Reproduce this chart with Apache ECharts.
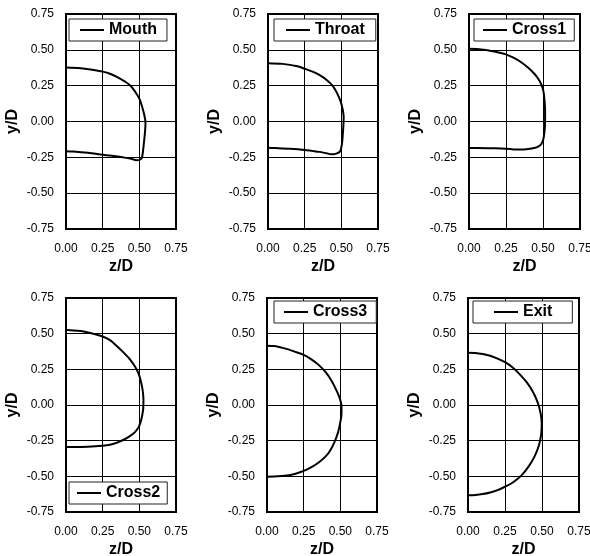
<!DOCTYPE html>
<html><head><meta charset="utf-8">
<script src="https://cdn.jsdelivr.net/npm/echarts@6/dist/echarts.min.js"></script>
<style>html,body{margin:0;padding:0;background:#fff}#c{width:590px;height:556px}</style>
</head><body><div id="c"></div>
<script>
const panelNames = ['Mouth', 'Throat', 'Cross1', 'Cross2', 'Cross3', 'Exit'];
const xTicks = [0.00, 0.25, 0.50, 0.75];
const yTicks = [-0.75, -0.50, -0.25, 0.00, 0.25, 0.50, 0.75];
const xTitle = 'z/D';
const yTitle = 'y/D';

// [z/D, y/D] pairs
const mouth = [[0,0.377],[0.10,0.372],[0.20,0.358],[0.25,0.348],[0.30,0.333],[0.35,0.31],[0.40,0.28],[0.44,0.25],[0.47,0.21],[0.50,0.16],[0.52,0.10],[0.535,0.04],[0.542,-0.01],[0.538,-0.08],[0.53,-0.16],[0.522,-0.23],[0.515,-0.258],[0.50,-0.268],[0.48,-0.27],[0.45,-0.262],[0.40,-0.252],[0.30,-0.238],[0.25,-0.232],[0.15,-0.218],[0.05,-0.209],[0,-0.207]];
const throat = [[0,0.407],[0.10,0.402],[0.20,0.385],[0.25,0.368],[0.30,0.35],[0.35,0.325],[0.40,0.29],[0.44,0.25],[0.47,0.2],[0.495,0.14],[0.51,0.08],[0.516,0.03],[0.514,-0.03],[0.51,-0.09],[0.505,-0.15],[0.498,-0.19],[0.49,-0.21],[0.475,-0.22],[0.45,-0.228],[0.43,-0.228],[0.40,-0.222],[0.35,-0.212],[0.30,-0.205],[0.25,-0.198],[0.15,-0.19],[0.05,-0.185],[0,-0.183]];
const cross1 = [[0,0.507],[0.05,0.506],[0.10,0.5],[0.15,0.492],[0.20,0.482],[0.25,0.468],[0.30,0.445],[0.35,0.415],[0.40,0.375],[0.44,0.335],[0.47,0.295],[0.49,0.255],[0.503,0.21],[0.51,0.15],[0.514,0.08],[0.514,0.0],[0.51,-0.07],[0.503,-0.12],[0.49,-0.155],[0.47,-0.173],[0.44,-0.185],[0.40,-0.192],[0.35,-0.196],[0.30,-0.195],[0.25,-0.19],[0.15,-0.187],[0.05,-0.185],[0,-0.185]];
const cross2 = [[0,0.525],[0.05,0.523],[0.10,0.518],[0.15,0.508],[0.20,0.495],[0.25,0.48],[0.30,0.455],[0.35,0.41],[0.40,0.36],[0.44,0.315],[0.47,0.27],[0.495,0.22],[0.512,0.16],[0.523,0.1],[0.528,0.04],[0.527,-0.02],[0.52,-0.07],[0.51,-0.115],[0.495,-0.155],[0.47,-0.19],[0.44,-0.215],[0.40,-0.24],[0.35,-0.263],[0.30,-0.278],[0.25,-0.285],[0.15,-0.292],[0.05,-0.294],[0,-0.294]];
const cross3 = [[0,0.416],[0.05,0.413],[0.10,0.402],[0.15,0.388],[0.20,0.37],[0.25,0.352],[0.30,0.322],[0.35,0.283],[0.40,0.23],[0.44,0.17],[0.47,0.11],[0.495,0.05],[0.508,-0.01],[0.508,-0.06],[0.50,-0.12],[0.485,-0.19],[0.46,-0.26],[0.43,-0.32],[0.40,-0.36],[0.35,-0.405],[0.30,-0.438],[0.25,-0.462],[0.20,-0.48],[0.15,-0.492],[0.10,-0.498],[0.05,-0.502],[0,-0.503]];
const exitData = [[0,0.367],[0.05,0.365],[0.10,0.357],[0.15,0.345],[0.20,0.325],[0.25,0.3],[0.30,0.265],[0.35,0.215],[0.40,0.155],[0.44,0.09],[0.47,0.02],[0.49,-0.055],[0.498,-0.13],[0.495,-0.2],[0.48,-0.28],[0.45,-0.36],[0.41,-0.43],[0.36,-0.495],[0.30,-0.545],[0.25,-0.573],[0.20,-0.597],[0.15,-0.613],[0.10,-0.624],[0.05,-0.63],[0,-0.632]];
const seriesData = [mouth, throat, cross1, cross2, cross3, exitData];

const FONT = "'Liberation Sans', Arial, sans-serif";
const grids = [
  {left: 66, top: 14, width: 110, height: 215},
  {left: 268, top: 14, width: 110, height: 215},
  {left: 469, top: 14, width: 111, height: 215},
  {left: 66, top: 298, width: 110, height: 214},
  {left: 267, top: 298, width: 110, height: 214},
  {left: 468, top: 298, width: 111, height: 214}
];
const legendPos = [
  {left: 69, top: 19, padding: [3, 10]},
  {left: 274, top: 19, padding: [3, 11]},
  {left: 474, top: 19, padding: [3, 8]},
  {left: 69, top: 482, padding: [3, 7]},
  {left: 274, top: 301, padding: [3, 9]},
  {left: 473, top: 301, padding: [3, 20]}
];

const option = {
  animation: false,
  backgroundColor: '#fff',
  grid: grids.map(g => Object.assign({show: true, borderColor: '#000', borderWidth: 2, backgroundColor: '#fff', containLabel: false, outerBoundsMode: 'none'}, g)),
  xAxis: grids.map((g, i) => ({
    type: 'value', gridIndex: i,
    min: xTicks[0], max: xTicks[xTicks.length - 1], interval: xTicks[1] - xTicks[0],
    name: xTitle, nameLocation: 'middle', nameGap: 30,
    nameTextStyle: {fontFamily: FONT, fontWeight: 'bold', fontSize: 16, color: '#000'},
    axisLine: {show: false}, axisTick: {show: false},
    axisLabel: {fontFamily: FONT, fontSize: 12, color: '#000', margin: 14, formatter: v => v.toFixed(2)},
    splitLine: {show: true, lineStyle: {color: '#000', width: 1}}
  })),
  yAxis: grids.map((g, i) => ({
    type: 'value', gridIndex: i,
    min: yTicks[0], max: yTicks[yTicks.length - 1], interval: yTicks[1] - yTicks[0],
    name: yTitle, nameLocation: 'middle', nameGap: 45,
    nameTextStyle: {fontFamily: FONT, fontWeight: 'bold', fontSize: 16, color: '#000'},
    axisLine: {show: false}, axisTick: {show: false},
    axisLabel: {fontFamily: FONT, fontSize: 12, color: '#000', margin: 12, formatter: v => v.toFixed(2)},
    splitLine: {show: true, lineStyle: {color: '#000', width: 1}}
  })),
  legend: panelNames.map((n, i) => Object.assign({
    data: [n], orient: 'horizontal', selectedMode: false,
    itemWidth: 24, itemHeight: 14, itemGap: 5,
    itemStyle: {opacity: 0},
    lineStyle: {color: '#000', width: 2, opacity: 1},
    backgroundColor: '#fff', borderColor: '#222', borderWidth: 1, borderRadius: 0,
    textStyle: {fontFamily: FONT, fontWeight: 'bold', fontSize: 16, color: '#000'}
  }, legendPos[i])),
  series: panelNames.map((n, i) => ({
    name: n, type: 'line', xAxisIndex: i, yAxisIndex: i,
    data: seriesData[i], symbol: 'none', smooth: 0.3,
    lineStyle: {color: '#000', width: 2}, itemStyle: {color: '#000'}
  }))
};
const chart = echarts.init(document.getElementById('c'), null, {renderer: 'canvas'});
chart.setOption(option);
</script></body></html>
